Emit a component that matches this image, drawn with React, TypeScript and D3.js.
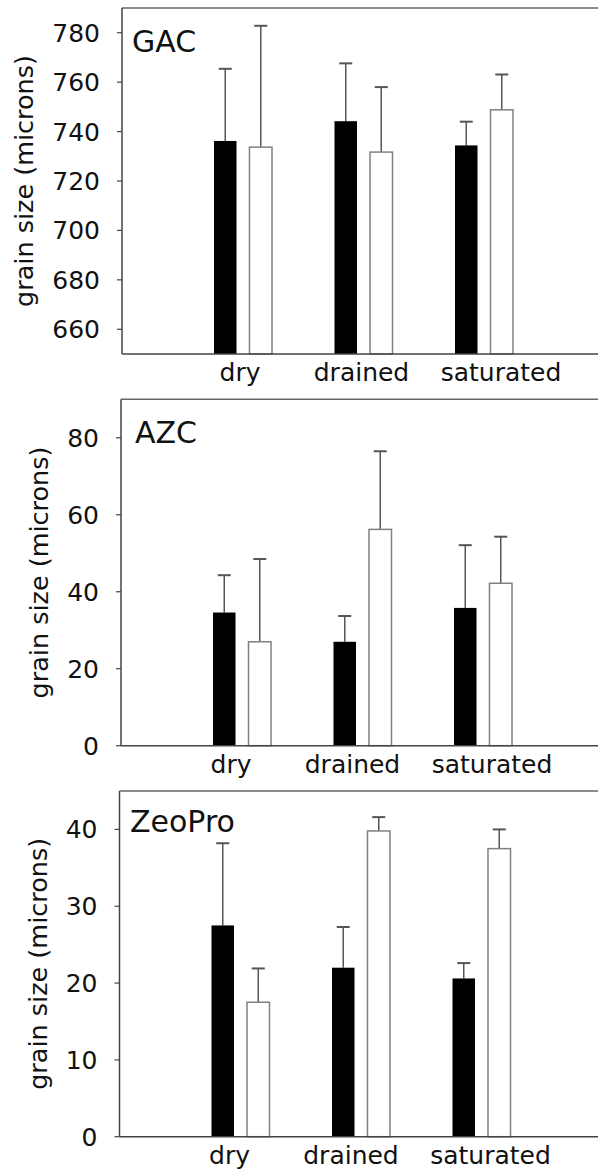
import React from "react";
import * as d3 from "d3";

const categories = ["dry", "drained", "saturated"];
const seriesKeys = ["filled", "open"];

const gacFilled = [736.2, 744.2, 734.4];
const gacFilledErr = [29.2, 23.4, 9.6];
const gacOpen = [733.7, 731.7, 748.8];
const gacOpenErr = [49.1, 26.3, 14.3];
const gacTicks = [660, 680, 700, 720, 740, 760, 780];

const azcFilled = [34.6, 27.0, 35.8];
const azcFilledErr = [9.7, 6.7, 16.3];
const azcOpen = [27.0, 56.2, 42.2];
const azcOpenErr = [21.5, 20.3, 12.1];
const azcTicks = [0, 20, 40, 60, 80];

const zeoFilled = [27.5, 22.0, 20.6];
const zeoFilledErr = [10.7, 5.3, 2.0];
const zeoOpen = [17.5, 39.8, 37.5];
const zeoOpenErr = [4.4, 1.8, 2.5];
const zeoTicks = [0, 10, 20, 30, 40];

const yLabel = "grain size (microns)";

const FONT = "'DejaVu Sans', Arial, sans-serif";

type PanelProps = {
  title: string;
  filled: number[];
  filledErr: number[];
  open: number[];
  openErr: number[];
  ticks: number[];
  domain: [number, number];
  top: number;
  bottom: number;
  left: number;
  yLabelX: number;
  labelShift: number;
  titleDx: number;
  titleDy: number;
};

const labelOffsets = [-3, -2, 17];

function Panel(p: PanelProps) {
  const right = 598;
  const y = d3.scaleLinear().domain(p.domain).range([p.bottom, p.top]);
  const x0 = d3
    .scaleBand<string>()
    .domain(categories)
    .range([p.left + 60.75, p.left + 422.25])
    .paddingInner(0)
    .paddingOuter(0);
  const x1 = d3
    .scaleBand<string>()
    .domain(seriesKeys)
    .range([-29, 29])
    .paddingInner(0.366)
    .paddingOuter(0);
  const bw = x1.bandwidth();
  const capW = 13;

  const bars = categories.flatMap((c, i) => [
    { c, key: "filled", v: p.filled[i], e: p.filledErr[i] },
    { c, key: "open", v: p.open[i], e: p.openErr[i] },
  ]);

  return (
    <g>
      <line x1={p.left} x2={right} y1={p.top} y2={p.top} stroke="#666" strokeWidth={1.5} />
      {bars.map((b, i) => {
        const cx = (x0(b.c) as number) + x0.bandwidth() / 2 + (x1(b.key) as number);
        const midX = cx + bw / 2;
        const yTop = y(b.v);
        const yErr = y(b.v + b.e);
        return (
          <g key={i}>
            <line x1={midX} x2={midX} y1={yTop} y2={yErr} stroke="#555" strokeWidth={1.5} />
            <line x1={midX - capW / 2} x2={midX + capW / 2} y1={yErr} y2={yErr} stroke="#555" strokeWidth={2} />
            {b.key === "filled" ? (
              <rect x={cx} y={yTop} width={bw} height={p.bottom - yTop} fill="#000" />
            ) : (
              <rect
                x={cx}
                y={yTop}
                width={bw}
                height={p.bottom - yTop}
                fill="#fff"
                stroke="#808080"
                strokeWidth={1.5}
              />
            )}
          </g>
        );
      })}
      <line x1={p.left} x2={p.left} y1={p.top} y2={p.bottom} stroke="#444" strokeWidth={1.5} />
      <line x1={p.left} x2={right} y1={p.bottom} y2={p.bottom} stroke="#444" strokeWidth={1.5} />
      {p.ticks.map((t) => (
        <g key={t}>
          <line x1={p.left - 5} x2={p.left} y1={y(t)} y2={y(t)} stroke="#444" strokeWidth={1.2} />
          <text
            x={p.left - 22}
            y={y(t)}
            dy="0.36em"
            textAnchor="end"
            fontSize={25}
            fontFamily={FONT}
            fill="#111"
          >
            {t}
          </text>
        </g>
      ))}
      {categories.map((c, i) => (
        <text
          key={c}
          x={(x0(c) as number) + x0.bandwidth() / 2 + labelOffsets[i] + p.labelShift}
          y={p.bottom + 27}
          textAnchor="middle"
          fontSize={25}
          fontFamily={FONT}
          fill="#111"
        >
          {c}
        </text>
      ))}
      <text
        transform={`translate(${p.yLabelX},${(p.top + p.bottom) / 2}) rotate(-90)`}
        textAnchor="middle"
        fontSize={25.5}
        fontFamily={FONT}
        fill="#111"
      >
        {yLabel}
      </text>
      <text
        x={p.left + p.titleDx}
        y={p.top + p.titleDy}
        fontSize={30}
        fontFamily={FONT}
        fill="#111"
      >
        {p.title}
      </text>
    </g>
  );
}

export default function App() {
  return (
    <svg
      width={598}
      height={1169}
      style={{ position: "absolute", left: 0, top: 0, background: "#fff" }}
    >
      <rect width={598} height={1169} fill="#fff" />
      <Panel
        title="GAC"
        filled={gacFilled}
        filledErr={gacFilledErr}
        open={gacOpen}
        openErr={gacOpenErr}
        ticks={gacTicks}
        domain={[650, 790]}
        top={8}
        bottom={354}
        left={122}
        yLabelX={33}
        labelShift={0}
        titleDx={10}
        titleDy={43.5}
      />
      <Panel
        title="AZC"
        filled={azcFilled}
        filledErr={azcFilledErr}
        open={azcOpen}
        openErr={azcOpenErr}
        ticks={azcTicks}
        domain={[0, 90]}
        top={399.3}
        bottom={745.7}
        left={121}
        yLabelX={48}
        labelShift={-8}
        titleDx={14}
        titleDy={43.4}
      />
      <Panel
        title="ZeoPro"
        filled={zeoFilled}
        filledErr={zeoFilledErr}
        open={zeoOpen}
        openErr={zeoOpenErr}
        ticks={zeoTicks}
        domain={[0, 45]}
        top={791}
        bottom={1136.7}
        left={119.5}
        yLabelX={47}
        labelShift={-8}
        titleDx={10.5}
        titleDy={40.7}
      />
    </svg>
  );
}
